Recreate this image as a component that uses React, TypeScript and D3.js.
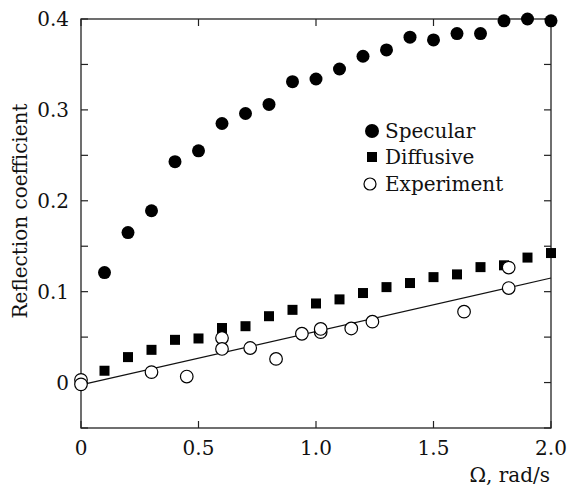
import React from "react";
import * as d3 from "d3";

const specularX = [0.1,0.2,0.3,0.4,0.5,0.6,0.7,0.8,0.9,1.0,1.1,1.2,1.3,1.4,1.5,1.6,1.7,1.8,1.9,2.0];
const specularY = [0.121,0.165,0.189,0.243,0.255,0.285,0.296,0.306,0.331,0.334,0.345,0.359,0.366,0.380,0.377,0.384,0.384,0.398,0.400,0.398];
const diffusiveX = [0.1,0.2,0.3,0.4,0.5,0.6,0.7,0.8,0.9,1.0,1.1,1.2,1.3,1.4,1.5,1.6,1.7,1.8,1.9,2.0];
const diffusiveY = [0.013,0.028,0.036,0.047,0.0485,0.060,0.062,0.073,0.080,0.087,0.0915,0.0985,0.105,0.1095,0.116,0.119,0.127,0.129,0.1375,0.1425];
const experimentX = [0,0,0.30,0.45,0.60,0.60,0.72,0.83,0.94,1.02,1.02,1.15,1.24,1.63,1.82,1.82];
const experimentY = [0.003,-0.002,0.0115,0.0066,0.049,0.037,0.038,0.026,0.0537,0.0555,0.059,0.0595,0.067,0.078,0.104,0.1265];
const fitX = [0, 2.0];
const fitY = [-0.0025, 0.115];
const xTicks = [0, 0.5, 1.0, 1.5, 2.0];
const xTickLabels = ["0", "0.5", "1.0", "1.5", "2.0"];
const yMajor = [0, 0.1, 0.2, 0.3, 0.4];
const yMajorLabels = ["0", "0.1", "0.2", "0.3", "0.4"];
const yMinor = [-0.05, 0.05, 0.15, 0.25, 0.35];
const legendNames = ["Specular", "Diffusive", "Experiment"];

const W = 567, H = 491;
const L = 81, R = 551, T = 19, B = 428;
const FONT = "'DejaVu Serif', serif";

export default function App() {
  const x = d3.scaleLinear().domain([0, 2]).range([L, R]);
  const y = d3.scaleLinear().domain([-0.05, 0.4]).range([B, T]);
  const line = d3.line<number>().x((d) => x(fitX[d])).y((d) => y(fitY[d]));
  const stroke = "#222";
  const tick = 7;
  const legX = 370, legY = [131, 157, 184];
  return (
    <svg width={W} height={H} style={{ position: "absolute", left: 0, top: 0, background: "#fff" }}>
      <rect x={L} y={T} width={R - L} height={B - T} fill="none" stroke={stroke} strokeWidth={1.3} />
      {[...yMajor, ...yMinor].map((v, i) => (
        <g key={"yt" + i}>
          <line x1={L} x2={L + tick} y1={y(v)} y2={y(v)} stroke={stroke} strokeWidth={1.2} />
          <line x1={R} x2={R - tick} y1={y(v)} y2={y(v)} stroke={stroke} strokeWidth={1.2} />
        </g>
      ))}
      {xTicks.map((v, i) => (
        <g key={"xt" + i}>
          <line x1={x(v)} x2={x(v)} y1={B} y2={B - tick} stroke={stroke} strokeWidth={1.2} />
          <line x1={x(v)} x2={x(v)} y1={T} y2={T + tick} stroke={stroke} strokeWidth={1.2} />
          <text x={x(v)} y={455} textAnchor="middle" fontFamily={FONT} fontSize={20} fill="#111">{xTickLabels[i]}</text>
        </g>
      ))}
      {yMajor.map((v, i) => (
        <text key={"yl" + i} x={69} y={y(v) + 7} textAnchor="end" fontFamily={FONT} fontSize={20} fill="#111">{yMajorLabels[i]}</text>
      ))}
      <text transform="translate(27,211) rotate(-90)" textAnchor="middle" fontFamily={FONT} fontSize={20} fill="#111">Reflection coefficient</text>
      <text x={550} y={482} textAnchor="end" fontFamily={FONT} fontSize={20} fill="#111">Ω, rad/s</text>
      <path d={line([0, 1]) || ""} fill="none" stroke="#111" strokeWidth={1.2} />
      {diffusiveX.map((v, i) => (
        <rect key={"d" + i} x={x(v) - 5} y={y(diffusiveY[i]) - 5} width={10} height={10} fill="#000" />
      ))}
      {specularX.map((v, i) => (
        <circle key={"s" + i} cx={x(v)} cy={y(specularY[i])} r={6.5} fill="#000" />
      ))}
      {experimentX.map((v, i) => (
        <circle key={"e" + i} cx={x(v)} cy={y(experimentY[i])} r={6.3} fill="#fff" stroke="#000" strokeWidth={1.2} />
      ))}
      <circle cx={legX + 2} cy={legY[0]} r={7} fill="#000" />
      <rect x={legX - 3} y={legY[1] - 5} width={10} height={10} fill="#000" />
      <circle cx={legX} cy={legY[2]} r={6} fill="#fff" stroke="#000" strokeWidth={1.2} />
      {legendNames.map((n, i) => (
        <text key={"ln" + i} x={385} y={legY[i] + 7} fontFamily={FONT} fontSize={20} fill="#111">{n}</text>
      ))}
    </svg>
  );
}
